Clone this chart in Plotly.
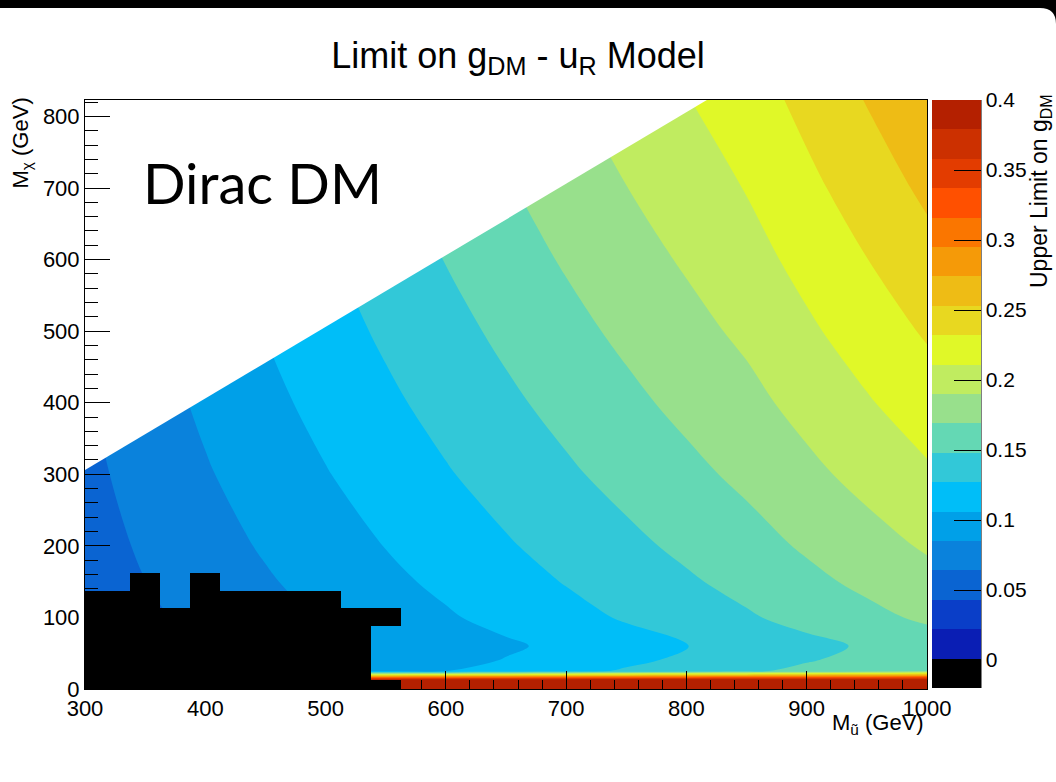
import plotly.graph_objects as go

# --- data ------------------------------------------------------------------
# grid of the upper limit on g_DM, rows are M_chi, columns are M_u~
mu_grid = [300, 350, 400, 450, 500, 550, 600, 650, 700, 750, 800, 850, 900, 950, 1000]
mchi_grid = [0, 12.5, 25, 40, 60, 100, 150, 200, 300, 400, 500, 600, 700, 850]
limit_grid = [
    [0.40] * 15,
    [0.40] * 15,
    [0.0585, 0.0665, 0.0740, 0.0819, 0.0898, 0.0977, 0.1056, 0.1135, 0.1214, 0.1293, 0.1372, 0.1451, 0.1530, 0.1609, 0.1688],
    [0.0520, 0.0600, 0.0675, 0.0754, 0.0833, 0.0912, 0.0991, 0.1070, 0.1149, 0.1228, 0.1307, 0.1386, 0.1465, 0.1544, 0.1623],
    [0.0480, 0.0560, 0.0635, 0.0714, 0.0793, 0.0872, 0.0951, 0.1030, 0.1109, 0.1188, 0.1267, 0.1346, 0.1425, 0.1504, 0.1583],
    [0.0511, 0.0604, 0.0691, 0.0779, 0.0866, 0.0952, 0.1037, 0.1122, 0.1206, 0.1290, 0.1373, 0.1457, 0.1546, 0.1635, 0.1725],
    [0.0535, 0.0638, 0.0734, 0.0829, 0.0922, 0.1014, 0.1103, 0.1192, 0.1280, 0.1367, 0.1454, 0.1542, 0.1639, 0.1736, 0.1833],
    [0.0554, 0.0666, 0.0770, 0.0871, 0.0969, 0.1065, 0.1159, 0.1251, 0.1342, 0.1433, 0.1522, 0.1613, 0.1716, 0.1820, 0.1924],
    [0.0588, 0.0715, 0.0832, 0.0943, 0.1050, 0.1153, 0.1254, 0.1353, 0.1450, 0.1545, 0.1639, 0.1735, 0.1850, 0.1965, 0.2080],
    [0.0618, 0.0758, 0.0886, 0.1007, 0.1121, 0.1231, 0.1338, 0.1442, 0.1543, 0.1643, 0.1742, 0.1842, 0.1967, 0.2092, 0.2217],
    [0.0646, 0.0797, 0.0936, 0.1065, 0.1186, 0.1302, 0.1414, 0.1523, 0.1629, 0.1733, 0.1836, 0.1940, 0.2075, 0.2209, 0.2343],
    [0.0671, 0.0833, 0.0982, 0.1119, 0.1246, 0.1368, 0.1486, 0.1599, 0.1710, 0.1817, 0.1923, 0.2032, 0.2175, 0.2317, 0.2460],
    [0.0695, 0.0868, 0.1026, 0.1170, 0.1304, 0.1431, 0.1553, 0.1671, 0.1785, 0.1897, 0.2006, 0.2119, 0.2270, 0.2420, 0.2571],
    [0.0730, 0.0917, 0.1089, 0.1242, 0.1385, 0.1520, 0.1649, 0.1773, 0.1893, 0.2009, 0.2123, 0.2242, 0.2404, 0.2566, 0.2728],
]

# 25 GeV wide columns where no limit was obtained (drawn below zero -> black)
excl_mu = [300, 325, 350, 375, 400, 425, 450, 475, 500, 525, 550, 550]
excl_lo = [0, 0, 0, 0, 0, 0, 0, 0, 0, 0, 0, 87.5]
excl_hi = [137.5, 137.5, 162.5, 112.5, 162.5, 137.5, 137.5, 137.5, 137.5, 112.5, 12.5, 112.5]
excl_value = -0.01

# kinematic edge of the scanned region (M_chi just above M_u)
edge_mu = [300, 1000]
edge_mchi = [306, 1006]

z_min, z_max, n_levels = -0.02, 0.4, 20
palette = ["#000000", "#0a1eb4", "#0a3ec8", "#0a64d2", "#0a82dc", "#00a0e8",
           "#00bef8", "#32c8d8", "#64d8b4", "#98e08c", "#c0ec60", "#e0f828",
           "#e8d820", "#eebc15", "#f59a08", "#fa7600", "#ff5000", "#e33c00",
           "#cc3000", "#b42000"]
cbar_vals = [0, 0.05, 0.1, 0.15, 0.2, 0.25, 0.3, 0.35, 0.4]
cbar_text = ["0", "0.05", "0.1", "0.15", "0.2", "0.25", "0.3", "0.35", "0.4"]

# --- geometry -------------------------------------------------------------
W, H = 1056, 782
L, R, T, B = 85, 927, 100, 689
FONT = "Liberation Sans, Arial, sans-serif"


def px_x(p):
    return (p - L) / (R - L)


def px_y(p):
    return (B - p) / (B - T)


def stepped(colors):
    n = len(colors)
    scale = []
    for k, c in enumerate(colors):
        scale.append([k / n, c])
        scale.append([(k + 1) / n, c])
    return scale


step = (z_max - z_min) / n_levels
scale = stepped(palette)

fig = go.Figure()

fig.add_trace(go.Contour(
    x=mu_grid, y=mchi_grid, z=limit_grid,
    colorscale=scale, showscale=False,
    contours=dict(start=z_min + step, end=z_max - step, size=step,
                  coloring="fill", showlines=False),
    line=dict(width=0), hoverinfo="skip",
))

# the excluded cells; they also carry the colour bar of the full z range
fig.add_trace(go.Heatmap(
    x=[excl_mu[0]], y=[excl_lo[0]], z=[[excl_value]],
    zmin=z_min, zmax=z_max, colorscale=scale, hoverinfo="skip",
    colorbar=dict(
        x=px_x(932), xanchor="left", xpad=0, ypad=0,
        y=px_y(394), yanchor="middle", len=588, lenmode="pixels",
        thickness=49, outlinewidth=0,
        tickmode="array", tickvals=cbar_vals, ticktext=cbar_text,
        ticks="inside", ticklen=27, tickcolor="black", tickwidth=1,
        tickfont=dict(family=FONT, size=21, color="black"),
    ),
))
fig.add_trace(go.Bar(
    x=excl_mu, base=excl_lo,
    y=[hi - lo for hi, lo in zip(excl_hi, excl_lo)],
    width=25, marker=dict(color=palette[0], line=dict(width=0)),
    hoverinfo="skip", showlegend=False,
))

# blank out the region above the kinematic edge
fig.add_trace(go.Scatter(
    x=edge_mu + [edge_mu[0]], y=edge_mchi + [edge_mchi[-1]],
    mode="lines", fill="toself", fillcolor="white",
    line=dict(width=0), hoverinfo="skip", showlegend=False,
))

axis_common = dict(
    showline=True, mirror=True, linecolor="black", linewidth=1,
    ticks="inside", tickcolor="black", tickwidth=1, showgrid=False,
    zeroline=False, tickfont=dict(family=FONT, size=22, color="black"),
)
fig.update_xaxes(range=[300, 1000], dtick=100, ticklen=18,
                 minor=dict(dtick=20, ticks="inside", ticklen=9, tickcolor="black"),
                 **axis_common)
fig.update_yaxes(range=[0, 823], dtick=100, ticklen=25,
                 minor=dict(dtick=20, ticks="inside", ticklen=13, tickcolor="black"),
                 **axis_common)

ann = []
ann.append(dict(text="M<sub>ũ</sub> (GeV)", x=px_x(926), y=px_y(724),
                xanchor="right", yanchor="middle",
                font=dict(family=FONT, size=22, color="black")))
ann.append(dict(text="M<sub>χ</sub> (GeV)", x=px_x(22), y=px_y(96),
                xanchor="center", yanchor="top", textangle=-90,
                font=dict(family=FONT, size=22, color="black")))
ann.append(dict(text="Upper Limit on g<sub>DM</sub>", x=px_x(1040), y=px_y(92),
                xanchor="center", yanchor="top", textangle=-90,
                font=dict(family=FONT, size=23, color="black")))
ann.append(dict(text="Dirac DM", x=px_x(141), y=px_y(182),
                xanchor="left", yanchor="middle",
                font=dict(family="Lato, sans-serif", size=56, color="black")))
for a in ann:
    a.update(xref="paper", yref="paper", showarrow=False)

# black slide border at the top with a rounded corner on the right,
# and the axis line on the right side of the colour bar
shapes = [
    dict(type="rect", xref="paper", yref="paper",
         x0=px_x(0), x1=px_x(W), y0=px_y(8), y1=px_y(0),
         fillcolor="black", line=dict(width=0)),
    dict(type="path", xref="paper", yref="paper",
         path=(f"M {px_x(W - 16)} {px_y(8)} Q {px_x(W)} {px_y(8)} {px_x(W)} {px_y(24)} "
               f"L {px_x(W)} {px_y(8)} Z"),
         fillcolor="black", line=dict(width=0)),
    dict(type="line", xref="paper", yref="paper",
         x0=px_x(981), x1=px_x(981), y0=px_y(688), y1=px_y(100),
         line=dict(color="black", width=1)),
]

fig.update_layout(
    width=W, height=H,
    margin=dict(l=L, r=W - R, t=T, b=H - B, autoexpand=False),
    paper_bgcolor="white", plot_bgcolor="white",
    font=dict(family=FONT, color="black"),
    title=dict(text="Limit on g<sub>DM</sub> - u<sub>R</sub> Model",
               x=518 / W, xanchor="center", y=1 - 55 / H, yanchor="middle",
               font=dict(family=FONT, size=36, color="black")),
    barmode="overlay", bargap=0,
    annotations=ann, shapes=shapes, showlegend=False,
)

fig.write_html("out.html", config={"displayModeBar": False},
               post_script="document.body.style.margin='0';")
